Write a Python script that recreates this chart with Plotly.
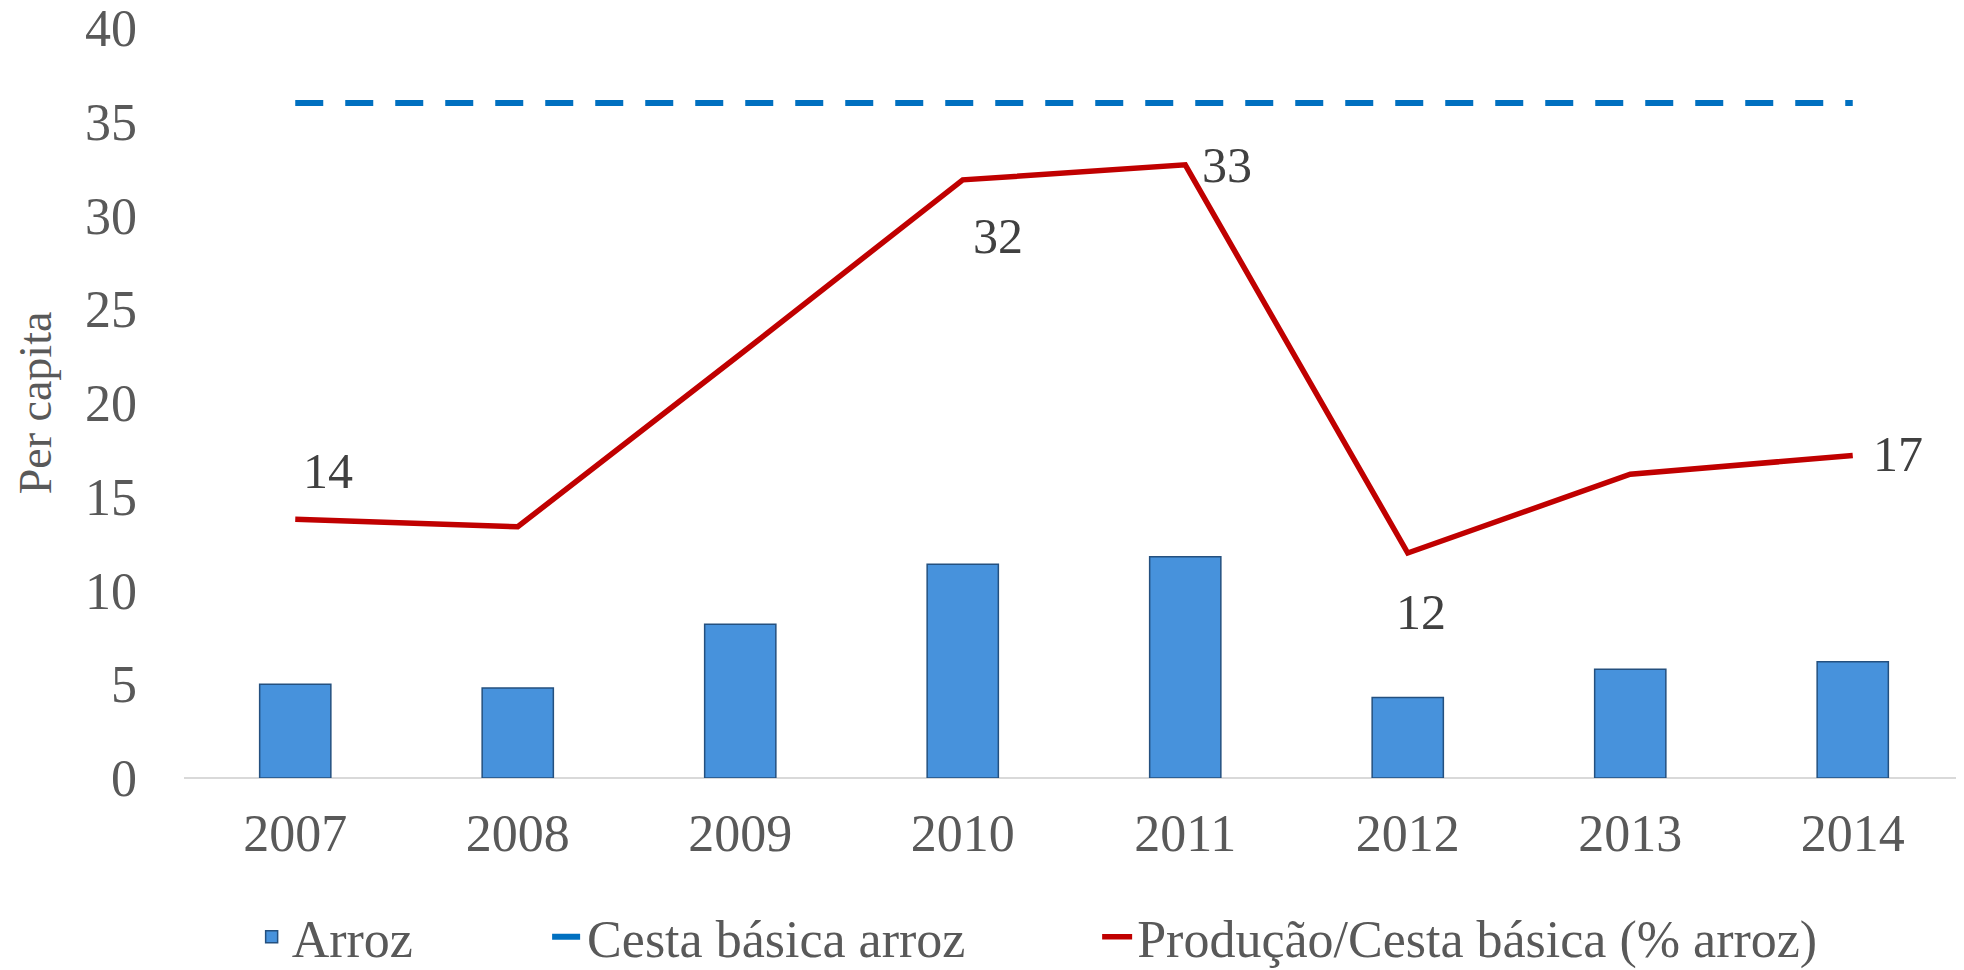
import plotly.graph_objects as go

years = ["2007", "2008", "2009", "2010", "2011", "2012", "2013", "2014"]
arroz = [5.0, 4.8, 8.2, 11.4, 11.8, 4.3, 5.8, 6.2]
cesta_basica = [36, 36, 36, 36, 36, 36, 36, 36]
producao_cesta = [13.8, 13.4, 22.6, 31.9, 32.7, 12.0, 16.2, 17.2]
labelled_years = ["2007", "2010", "2011", "2012", "2014"]

FONT = "Liberation Serif"
GREY = "#595959"

fig = go.Figure()
fig.add_trace(go.Bar(
    x=years, y=arroz, name="Arroz", width=0.32, legend="legend",
    marker=dict(color="#4792dc", line=dict(color="#24507f", width=1.5)),
))
fig.add_trace(go.Scatter(
    x=years, y=cesta_basica, name="Cesta básica arroz", mode="lines", legend="legend2",
    line=dict(color="#0070c0", width=6, dash="28px,22px"),
))
fig.add_trace(go.Scatter(
    x=years, y=producao_cesta, name="Produção/Cesta básica (% arroz)", mode="lines",
    legend="legend3",
    line=dict(color="#c00000", width=5.5),
))

# data labels placed like the original Excel chart
offsets = {
    "2007": (33, 48),
    "2010": (35, -56),
    "2011": (42, 0),
    "2012": (13, -59),
    "2014": (45, 2),
}
for yr in labelled_years:
    i = years.index(yr)
    v = producao_cesta[i]
    dx, dy = offsets[yr]
    fig.add_annotation(
        x=i, y=v, text=f"{v:.0f}", showarrow=False,
        xshift=dx, yshift=dy,
        font=dict(family=FONT, size=50, color="#404040"),
    )

leg = dict(orientation="h", y=-0.212, yanchor="middle", xanchor="left",
           font=dict(family=FONT, size=52, color=GREY), bgcolor="rgba(0,0,0,0)")
# the page body adds an 8px margin, so the figure is 8px smaller than the window
fig.update_layout(
    width=1956, height=962,
    margin=dict(l=176, r=0, t=20, b=192, autoexpand=False),
    plot_bgcolor="white", paper_bgcolor="white",
    font=dict(family=FONT, size=50, color=GREY),
    showlegend=True,
    legend=dict(leg, x=0.038),
    legend2=dict(leg, x=0.204),
    legend3=dict(leg, x=0.513),
)
fig.update_xaxes(
    type="category", range=[-0.5, 7.5], showgrid=False, showline=False, ticks="",
    ticklabelstandoff=20, automargin=False,
    tickfont=dict(family=FONT, size=52, color=GREY),
)
fig.update_yaxes(
    range=[0, 40], dtick=5, showgrid=False, zeroline=True,
    zerolinecolor="#d9d9d9", zerolinewidth=2, showline=False,
    ticklabelstandoff=46, ticklabeloverflow="allow", automargin=False,
    tickfont=dict(family=FONT, size=52, color=GREY),
    title=dict(text="Per capita", font=dict(family=FONT, size=46, color=GREY), standoff=18),
)

fig.write_html("out.html")
